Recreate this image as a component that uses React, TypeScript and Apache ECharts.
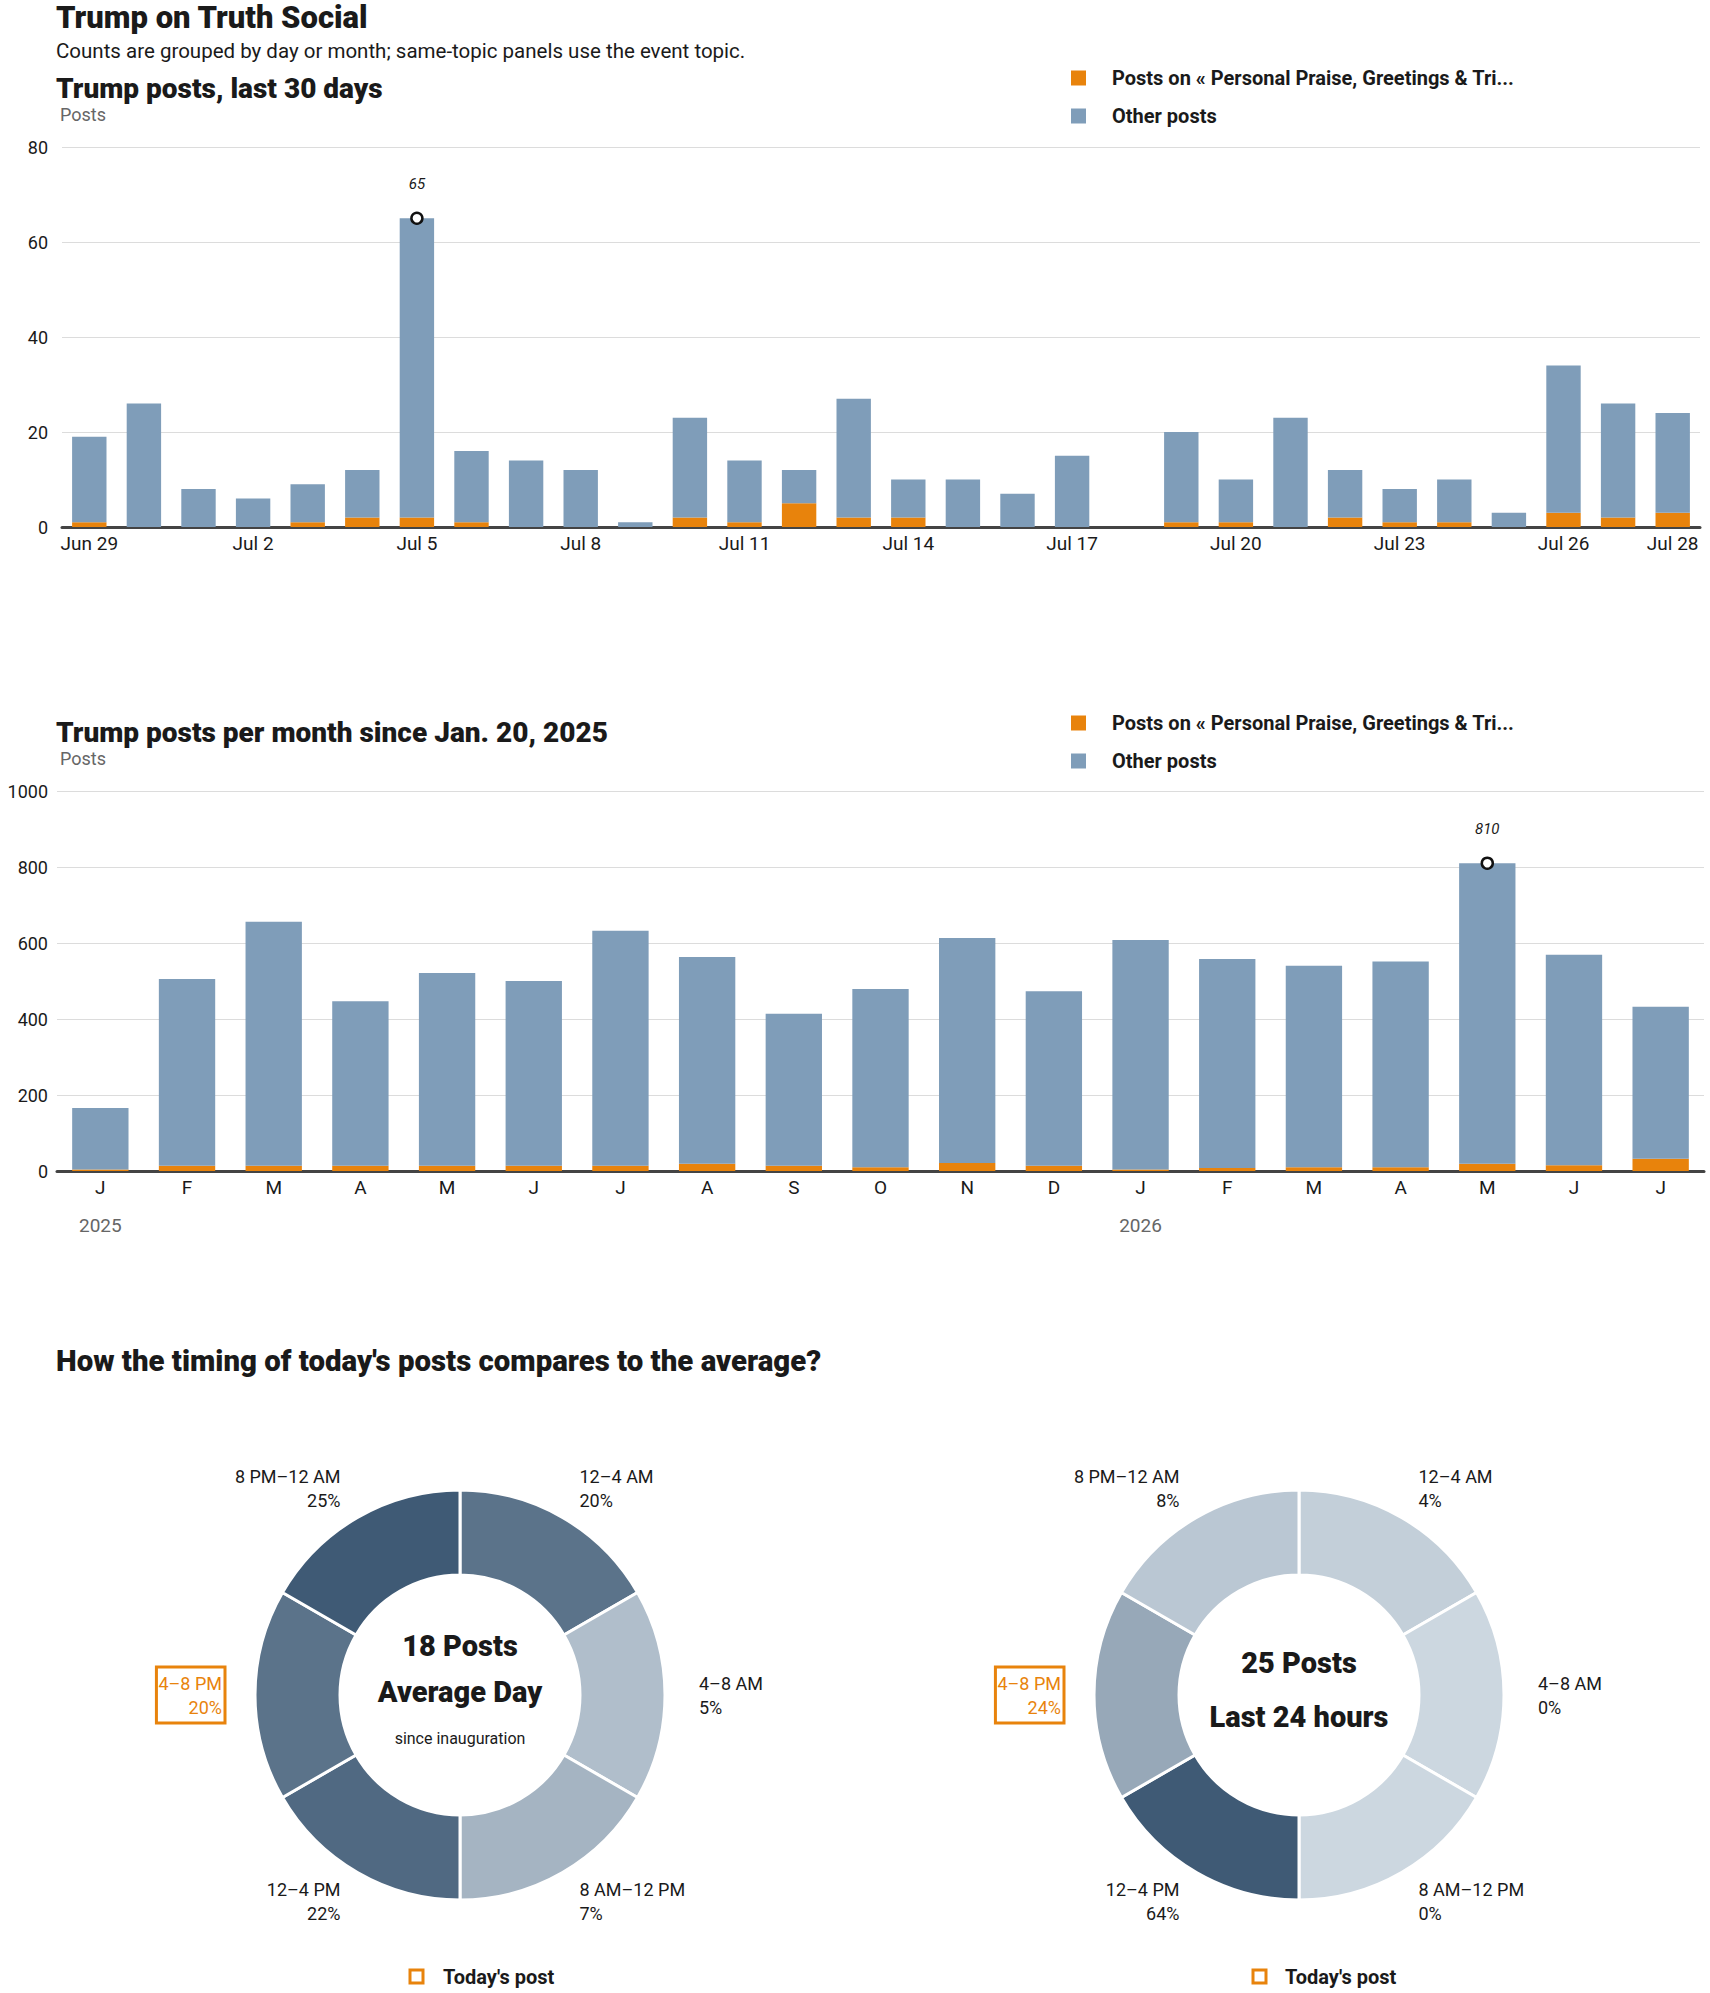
import { useEffect, useRef } from "react";
import * as echarts from "echarts";

// ---- last 30 days ----
const days = [
  "Jun 29", "Jun 30", "Jul 1", "Jul 2", "Jul 3", "Jul 4", "Jul 5", "Jul 6", "Jul 7", "Jul 8",
  "Jul 9", "Jul 10", "Jul 11", "Jul 12", "Jul 13", "Jul 14", "Jul 15", "Jul 16", "Jul 17", "Jul 18",
  "Jul 19", "Jul 20", "Jul 21", "Jul 22", "Jul 23", "Jul 24", "Jul 25", "Jul 26", "Jul 27", "Jul 28",
];
const dayTickLabels = ["Jun 29", "Jul 2", "Jul 5", "Jul 8", "Jul 11", "Jul 14", "Jul 17", "Jul 20", "Jul 23", "Jul 26", "Jul 28"];
const dailyPraise = [1, 0, 0, 0, 1, 2, 2, 1, 0, 0, 0, 2, 1, 5, 2, 2, 0, 0, 0, 0, 1, 1, 0, 2, 1, 1, 0, 3, 2, 3];
const dailyOther = [18, 26, 8, 6, 8, 10, 63, 15, 14, 12, 1, 21, 13, 7, 25, 8, 10, 7, 15, 0, 19, 9, 23, 10, 7, 9, 3, 31, 24, 21];

// ---- per month since Jan. 20, 2025 ----
const months = ["J", "F", "M", "A", "M", "J", "J", "A", "S", "O", "N", "D", "J", "F", "M", "A", "M", "J", "J"];
const monthYear = ["2025", "", "", "", "", "", "", "", "", "", "", "", "2026", "", "", "", "", "", ""];
const monthlyPraise = [4, 14, 14, 14, 14, 14, 14, 19, 14, 10, 21, 14, 4, 8, 10, 10, 19, 15, 32];
const monthlyOther = [162, 491, 642, 433, 507, 486, 618, 544, 400, 469, 592, 459, 604, 550, 530, 541, 791, 554, 400];

// ---- timing ----
const slots = ["12–4 AM", "4–8 AM", "8 AM–12 PM", "12–4 PM", "4–8 PM", "8 PM–12 AM"];
const slotHours = [4, 4, 4, 4, 4, 4];
const avgShare = [20, 5, 7, 22, 20, 25];
const todayShare = [4, 0, 0, 64, 24, 8];
const todaySlot = "4–8 PM";
const avgPosts = 18;
const todayPosts = 25;

const PRAISE = "Posts on « Personal Praise, Greetings & Tri...";
const OTHER = "Other posts";

const BLUE = "#7f9db9";
const ORANGE = "#e8830c";
const INK = "#1a1a1a";
const GREY = "#666666";
const FONT = 'Roboto, "Liberation Sans", sans-serif';

function peakOf(a: number[], b: number[]) {
  const totals = a.map((v, i) => v + b[i]);
  let idx = 0;
  totals.forEach((t, i) => {
    if (t > totals[idx]) idx = i;
  });
  return { idx, value: totals[idx] };
}

function shareColor(p: number, max: number) {
  return echarts.color.lerp(max ? p / max : 0, ["#ccd7e0", "#3f5a75"]);
}

function pieData(shares: number[]) {
  const max = Math.max(...shares);
  return slots.map((name, i) => {
    const item: any = {
      name,
      value: slotHours[i],
      share: shares[i],
      itemStyle: { color: shareColor(shares[i], max) },
    };
    if (name === todaySlot) {
      // highlighted slot: orange text in an orange box
      item.label = {
        color: ORANGE,
        borderColor: ORANGE,
        borderWidth: 3,
        padding: [5, 3, 3, 2],
        offset: [4, 0],
      };
    }
    return item;
  });
}

function pieSeries(shares: number[], cx: number): echarts.PieSeriesOption {
  return {
    type: "pie",
    center: [cx, 1695],
    radius: [120, 205],
    startAngle: 90,
    clockwise: true,
    avoidLabelOverlap: false,
    silent: true,
    itemStyle: { borderColor: "#fff", borderWidth: 3 },
    label: {
      show: true,
      position: "outside",
      fontFamily: FONT,
      fontSize: 18,
      lineHeight: 24,
      color: INK,
      distanceToLabelLine: 0,
      formatter: (p: any) => `${p.name}\n${p.data.share}%`,
    },
    labelLine: { show: false, length: 34, length2: 0 },
    data: pieData(shares),
  };
}

const axisText = { color: INK, fontSize: 18, fontFamily: FONT };

export default function App() {
  const ref = useRef<HTMLDivElement>(null);

  useEffect(() => {
    if (!ref.current) return;
    const chart = echarts.init(ref.current, undefined, { renderer: "svg" });

    const dPeak = peakOf(dailyPraise, dailyOther);
    const mPeak = peakOf(monthlyPraise, monthlyOther);

    const peakMark = (idx: number, value: number) => ({
      symbol: "circle",
      symbolSize: 11,
      itemStyle: { color: "#fff", borderColor: "#111", borderWidth: 2.5 },
      label: {
        show: true,
        position: "top" as const,
        distance: 20,
        formatter: String(value),
        fontStyle: "italic" as const,
        fontFamily: FONT,
        fontSize: 15,
        color: INK,
      },
      data: [{ coord: [idx, value], value }],
    });

    const legendBase = {
      orient: "vertical" as const,
      left: 1066,
      icon: "rect",
      itemWidth: 15,
      itemHeight: 15,
      itemGap: 18,
      selectedMode: false,
      textStyle: {
        fontFamily: FONT,
        fontSize: 20,
        lineHeight: 20,
        fontWeight: "bold" as const,
        color: INK,
        padding: [0, 0, 0, 21],
      },
      data: [PRAISE, OTHER],
    };

    const titleText = (text: string, top: number, size: number, weight: any, color = INK, left = 56) => ({
      text,
      left,
      top,
      padding: 0,
      textStyle: { fontFamily: FONT, fontSize: size, fontWeight: weight, color },
    });

    const gridLine = { lineStyle: { color: "#dcdcdc", width: 1 } };
    const baseLine = { show: true, lineStyle: { color: "#444", width: 3 } };
    const centerText = (text: string, x: number, y: number, size: number, weight: any) => ({
      type: "text" as const,
      x,
      y,
      style: { text, fontFamily: FONT, fontSize: size, fontWeight: weight, fill: INK, align: "center", verticalAlign: "middle" },
    });

    const option: echarts.EChartsOption = {
      animation: false,
      backgroundColor: "#fff",
      title: [
        titleText("Trump on Truth Social", 2, 31, 900),
        titleText("Counts are grouped by day or month; same-topic panels use the event topic.", 40, 20.5, "normal"),
        titleText("Trump posts, last 30 days", 74, 28, 900),
        titleText("Posts", 105, 18, "normal", GREY, 60),
        titleText("Trump posts per month since Jan. 20, 2025", 718, 28, 900),
        titleText("Posts", 749, 18, "normal", GREY, 60),
        titleText("How the timing of today's posts compares to the average?", 1346, 29.4, 900),
      ],
      legend: [
        { ...legendBase, top: 63 },
        { ...legendBase, top: 708 },
      ],
      grid: [
        { left: 62, right: 10, top: 147, height: 380 },
        { left: 57, right: 6, top: 791, height: 380 },
      ],
      xAxis: [
        {
          type: "category",
          gridIndex: 0,
          data: days,
          axisTick: { show: false },
          axisLine: baseLine,
          axisLabel: {
            ...axisText,
            fontSize: 19,
            margin: 7,
            interval: (i: number) => dayTickLabels.includes(days[i]),
          },
        },
        {
          type: "category",
          gridIndex: 1,
          data: months,
          axisTick: { show: false },
          axisLine: baseLine,
          axisLabel: {
            ...axisText,
            fontSize: 19,
            margin: 7,
            lineHeight: 19,
            interval: 0,
            formatter: (v: string, i: number) => (monthYear[i] ? `${v}\n\n{yr|${monthYear[i]}}` : v),
            rich: { yr: { color: GREY, fontSize: 19, lineHeight: 19, fontFamily: FONT } },
          },
        },
      ],
      yAxis: [
        {
          type: "value",
          gridIndex: 0,
          min: 0,
          max: 80,
          interval: 20,
          splitLine: gridLine,
          axisLabel: { ...axisText, margin: 14, formatter: (v: number) => String(v) },
        },
        {
          type: "value",
          gridIndex: 1,
          min: 0,
          max: 1000,
          interval: 200,
          splitLine: gridLine,
          axisLabel: { ...axisText, margin: 9, formatter: (v: number) => String(v) },
        },
      ],
      graphic: [
        centerText(`${avgPosts} Posts`, 460, 1646, 29, 900),
        centerText("Average Day", 460, 1692, 29, 900),
        centerText("since inauguration", 460, 1738, 16, "normal"),
        centerText(`${todayPosts} Posts`, 1299, 1663, 29, 900),
        centerText("Last 24 hours", 1299, 1717, 29, 900),
        { type: "rect", shape: { x: 410, y: 1970, width: 13, height: 13 }, style: { fill: "#fff", stroke: ORANGE, lineWidth: 3 } },
        { type: "text", x: 443, y: 1977, style: { text: "Today's post", fontFamily: FONT, fontSize: 20, fontWeight: "bold", fill: INK, verticalAlign: "middle" } },
        { type: "rect", shape: { x: 1253, y: 1970, width: 13, height: 13 }, style: { fill: "#fff", stroke: ORANGE, lineWidth: 3 } },
        { type: "text", x: 1285, y: 1977, style: { text: "Today's post", fontFamily: FONT, fontSize: 20, fontWeight: "bold", fill: INK, verticalAlign: "middle" } },
      ],
      series: [
        {
          name: PRAISE,
          type: "bar",
          xAxisIndex: 0,
          yAxisIndex: 0,
          stack: "day",
          barCategoryGap: "37%",
          itemStyle: { color: ORANGE },
          data: dailyPraise,
        },
        {
          name: OTHER,
          type: "bar",
          xAxisIndex: 0,
          yAxisIndex: 0,
          stack: "day",
          barCategoryGap: "37%",
          itemStyle: { color: BLUE },
          data: dailyOther,
          markPoint: peakMark(dPeak.idx, dPeak.value),
        },
        {
          name: PRAISE,
          type: "bar",
          xAxisIndex: 1,
          yAxisIndex: 1,
          stack: "month",
          barCategoryGap: "35%",
          itemStyle: { color: ORANGE },
          data: monthlyPraise,
        },
        {
          name: OTHER,
          type: "bar",
          xAxisIndex: 1,
          yAxisIndex: 1,
          stack: "month",
          barCategoryGap: "35%",
          itemStyle: { color: BLUE },
          data: monthlyOther,
          markPoint: peakMark(mPeak.idx, mPeak.value),
        },
        pieSeries(avgShare, 460),
        pieSeries(todayShare, 1299),
      ],
    };

    chart.setOption(option);
    return () => chart.dispose();
  }, []);

  return (
    <div
      ref={ref}
      style={{ position: "absolute", left: 0, top: 0, width: 1710, height: 1993, background: "#fff" }}
    />
  );
}
